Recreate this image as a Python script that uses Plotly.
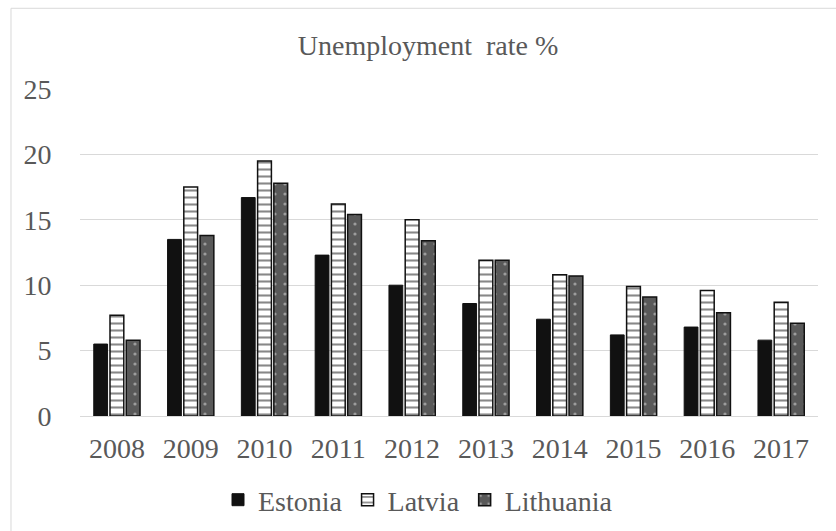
import plotly.graph_objects as go

years = ["2008", "2009", "2010", "2011", "2012", "2013", "2014", "2015", "2016", "2017"]
estonia = [5.5, 13.5, 16.7, 12.3, 10.0, 8.6, 7.4, 6.2, 6.8, 5.8]
latvia = [7.7, 17.5, 19.5, 16.2, 15.0, 11.9, 10.8, 9.9, 9.6, 8.7]
lithuania = [5.8, 13.8, 17.8, 15.4, 13.4, 11.9, 10.7, 9.1, 7.9, 7.1]
y_ticks = [0, 5, 10, 15, 20, 25]

FONT = "Liberation Serif, Times New Roman, serif"
TXT = "#595959"
FS = 28

fig = go.Figure()
fig.add_trace(go.Bar(
    x=years, y=estonia, name="Estonia",
    marker=dict(color="#111111", line=dict(color="#111111", width=1)),
))
fig.add_trace(go.Bar(
    x=years, y=latvia, name="Latvia",
    marker=dict(color="white", line=dict(color="#111111", width=1.5),
                pattern=dict(shape="-", fgcolor="#111111", bgcolor="white",
                             size=7, solidity=0.3, fillmode="overlay")),
))
fig.add_trace(go.Bar(
    x=years, y=lithuania, name="Lithuania",
    marker=dict(color="#595959", line=dict(color="#111111", width=1.5),
                pattern=dict(shape=".", fgcolor="#e0e0e0", bgcolor="#595959",
                             size=10, solidity=0.08, fillmode="overlay")),
))

fig.update_layout(
    width=836, height=531,
    margin=dict(l=80, r=18, t=89, b=115, autoexpand=False),
    paper_bgcolor="white", plot_bgcolor="white",
    barmode="group", bargap=0.34, bargroupgap=0.15,
    font=dict(family=FONT, color=TXT, size=FS),
    title=dict(text="Unemployment  rate %", x=428 / 836, xref="container", xanchor="center",
               y=1 - 45 / 531, yanchor="middle",
               font=dict(family=FONT, size=FS, color=TXT)),
    showlegend=True,
    legend=dict(orientation="h", x=0.458, xanchor="center",
                yref="container", y=1 - 500 / 531, yanchor="middle",
                font=dict(family=FONT, size=FS, color=TXT),
                itemwidth=30, tracegroupgap=0),
    xaxis=dict(showgrid=False, showline=True, linecolor="#d9d9d9", linewidth=1,
               ticks="outside", ticklen=7, tickcolor="rgba(0,0,0,0)", automargin=False,
               tickfont=dict(family=FONT, size=FS, color=TXT)),
    yaxis=dict(range=[0, 25], tickvals=y_ticks, showgrid=True, gridcolor="#d9d9d9",
               gridwidth=1, zeroline=False, showline=False, automargin=False,
               ticks="outside", ticklen=22, tickcolor="rgba(0,0,0,0)",
               tickfont=dict(family=FONT, size=FS, color=TXT)),
    shapes=[dict(type="rect", xref="paper", yref="paper",
                 x0=-0.0935, x1=1.1, y0=-0.6, y1=1.2468,
                 line=dict(color="#d9d9d9", width=1), fillcolor="rgba(0,0,0,0)",
                 layer="below")],
)

fig.write_html("out.html")
